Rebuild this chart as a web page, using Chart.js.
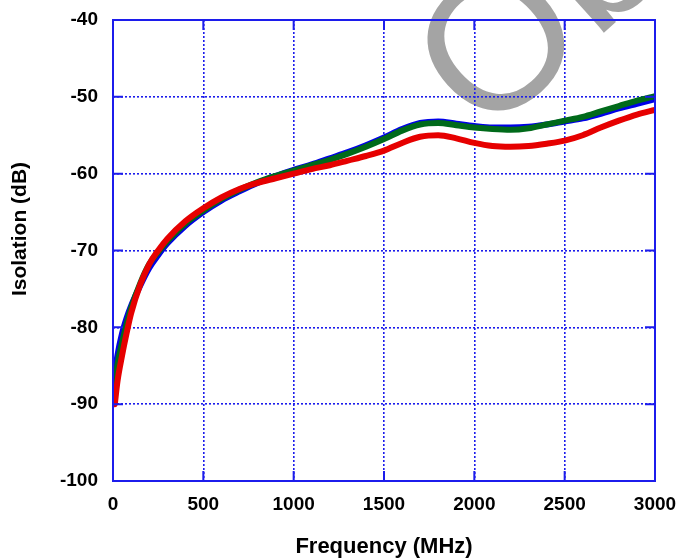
<!DOCTYPE html>
<html lang="en">
<head>
    <meta charset="UTF-8">
    <title>Isolation vs Frequency</title>
    <script src="https://cdn.jsdelivr.net/npm/chart.js"></script>
    <style>
        body {
            margin: 0;
            background: #fff;
        }
        .chart-box {
            width: 680px;
            height: 560px;
        }
    </style>
</head>
<body>
    <div class="chart-box">
        <canvas id="isoChart"></canvas>
    </div>

    <script>
        // frequency points (MHz) shared by all three traces
        const freqs = [10, 25, 50, 75, 100, 150, 200, 250, 300, 400, 500, 600, 700, 800, 900, 1000,
            1100, 1200, 1300, 1400, 1500, 1600, 1700, 1800, 1900, 2000, 2100, 2200, 2300, 2400, 2500,
            2600, 2700, 2800, 2900, 3000];

        const redIso = [-90, -87, -83.7, -80.8, -78.2, -74.5, -71.8, -70, -68.5, -66.2, -64.5, -63.1, -62, -61.2, -60.6, -60,
            -59.4, -58.9, -58.3, -57.7, -57, -56, -55.2, -55, -55.4, -56, -56.4, -56.5, -56.4, -56.1, -55.7,
            -55, -54, -53.1, -52.3, -51.7];

        const greenIso = [-87.5, -84.8, -82, -79.6, -77.5, -74.3, -71.8, -70.2, -68.8, -66.5, -64.8, -63.3, -62.1, -61.1, -60.3, -59.6,
            -58.9, -58.2, -57.4, -56.5, -55.5, -54.4, -53.6, -53.4, -53.7, -54, -54.2, -54.3, -54.1, -53.6, -53.1,
            -52.6, -51.9, -51.2, -50.5, -49.9];

        const blueIso = [-86, -83.6, -80.8, -78.8, -77.2, -74.6, -72.3, -70.6, -69.1, -66.8, -65, -63.5, -62.3, -61.2, -60.3, -59.5,
            -58.8, -58, -57.2, -56.3, -55.3, -54.2, -53.4, -53.2, -53.5, -53.8, -54, -54, -53.9, -53.6, -53.2,
            -52.8, -52.2, -51.5, -50.9, -50.3];

        const xTicks = [0, 500, 1000, 1500, 2000, 2500, 3000];
        const yTicks = [-100, -90, -80, -70, -60, -50, -40];
        const yTitle = 'Isolation (dB)';

        const gridBlue = '#1c1cec';
        const labelFont = '"Liberation Sans", Arial, sans-serif';

        function toPoints(vals) {
            return freqs.map((f, i) => ({ x: f, y: vals[i] }));
        }

        // grey diagonal stamp behind the plot
        const watermark = {
            id: 'watermark',
            beforeDraw(chart) {
                const c = chart.ctx;
                c.save();
                c.translate(485, 140);
                c.rotate(-42 * Math.PI / 180);
                c.font = '190px ' + labelFont;
                c.fillStyle = '#a4a4a4';
                c.fillText('Obsolete', 0, 0);
                c.restore();
            }
        };

        // frame, inward tick marks and the (off-centre) y title
        const frame = {
            id: 'frame',
            afterDraw(chart) {
                const c = chart.ctx;
                const a = chart.chartArea;
                const xs = chart.scales.x, ys = chart.scales.y;
                c.save();
                c.strokeStyle = gridBlue;
                c.lineWidth = 2;
                c.strokeRect(a.left, a.top, a.right - a.left, a.bottom - a.top);
                c.beginPath();
                xTicks.forEach(v => {
                    const px = xs.getPixelForValue(v);
                    c.moveTo(px, a.bottom); c.lineTo(px, a.bottom - 10);
                    c.moveTo(px, a.top); c.lineTo(px, a.top + 10);
                });
                yTicks.forEach(v => {
                    const py = ys.getPixelForValue(v);
                    c.moveTo(a.left, py); c.lineTo(a.left + 10, py);
                    c.moveTo(a.right, py); c.lineTo(a.right - 10, py);
                });
                c.stroke();

                c.translate(20, 229);
                c.rotate(-Math.PI / 2);
                c.font = 'bold 21px ' + labelFont;
                c.fillStyle = '#000';
                c.textAlign = 'center';
                c.textBaseline = 'middle';
                c.fillText(yTitle, 0, 0);
                c.restore();
            }
        };

        const ctx = document.getElementById('isoChart').getContext('2d');
        new Chart(ctx, {
            type: 'line',
            data: {
                datasets: [
                    { data: toPoints(redIso), borderColor: '#e60000' },
                    { data: toPoints(greenIso), borderColor: '#006a1a' },
                    { data: toPoints(blueIso), borderColor: '#0000e8' }
                ]
            },
            options: {
                responsive: true,
                maintainAspectRatio: false,
                animation: false,
                layout: { padding: { top: 20, right: 25, left: 0, bottom: 0 } },
                elements: {
                    point: { radius: 0 },
                    line: { borderWidth: 6, cubicInterpolationMode: 'monotone', borderCapStyle: 'round' }
                },
                plugins: {
                    legend: { display: false },
                    tooltip: { enabled: false }
                },
                scales: {
                    x: {
                        type: 'linear',
                        min: 0,
                        max: 3000,
                        afterBuildTicks: s => { s.ticks = xTicks.map(v => ({ value: v })); },
                        afterFit: s => { s.height = 79; s.paddingLeft = 0; s.paddingRight = 0; },
                        border: { display: false, dash: [2, 2] },
                        grid: { color: gridBlue, lineWidth: 1.6, drawTicks: false },
                        ticks: {
                            padding: 12,
                            color: '#000',
                            callback: v => String(v),
                            font: { family: labelFont, size: 19, weight: 'bold' }
                        },
                        title: {
                            display: true,
                            text: 'Frequency (MHz)',
                            color: '#000',
                            padding: { top: 0, bottom: 0 },
                            font: { family: labelFont, size: 22, weight: 'bold' }
                        }
                    },
                    y: {
                        min: -100,
                        max: -40,
                        afterBuildTicks: s => { s.ticks = yTicks.map(v => ({ value: v })); },
                        afterFit: s => { s.width = 113; s.paddingTop = 0; s.paddingBottom = 0; },
                        border: { display: false, dash: [2, 2] },
                        grid: { color: gridBlue, lineWidth: 1.6, drawTicks: false },
                        ticks: {
                            padding: 15,
                            color: '#000',
                            callback: v => String(v),
                            font: { family: labelFont, size: 19, weight: 'bold' }
                        }
                    }
                }
            },
            plugins: [watermark, frame]
        });
    </script>
</body>
</html>
